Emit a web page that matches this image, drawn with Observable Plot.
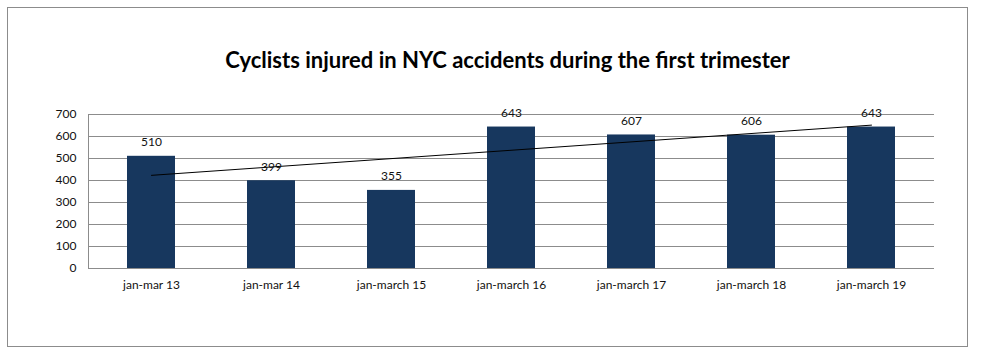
<!DOCTYPE html>
<html>
<head>
<meta charset="utf-8">
<script src="https://cdn.jsdelivr.net/npm/d3@7"></script>
<script src="https://cdn.jsdelivr.net/npm/@observablehq/plot@0.6"></script>
<style>
  html, body { margin: 0; padding: 0; background: #fff; }
  body { width: 985px; height: 357px; position: relative; overflow: hidden; font-family: Lato, "Open Sans", sans-serif; }
  #frame { position: absolute; left: 7px; top: 7px; width: 959px; height: 338px; border: 1px solid #8c8c8c; box-sizing: content-box; }
  #title { position: absolute; left: 0; width: 1015px; top: 46px; text-align: center; font-size: 22px; font-weight: bold; color: #000; }
  #chart { position: absolute; left: 0; top: 90px; }
</style>
</head>
<body>
<div id="frame"></div>
<div id="title">Cyclists injured in NYC accidents during the first trimester</div>
<div id="chart"></div>
<script>
const categories = ["jan-mar 13", "jan-mar 14", "jan-march 15", "jan-march 16", "jan-march 17", "jan-march 18", "jan-march 19"];
const injured = [510, 399, 355, 643, 607, 606, 643];
const yTicks = [0, 100, 200, 300, 400, 500, 600, 700];

const data = categories.map((c, i) => ({category: c, value: injured[i]}));

// linear trendline (least squares over category index)
const n = injured.length;
const mx = (n - 1) / 2;
const my = d3.mean(injured);
const slope = d3.sum(injured, (v, i) => (i - mx) * (v - my)) / d3.sum(injured, (v, i) => (i - mx) ** 2);
const trend = [
  {category: categories[0], value: my - slope * mx},
  {category: categories[n - 1], value: my + slope * (n - 1 - mx)}
];

const chart = Plot.plot({
  width: 985,
  height: 267,
  marginLeft: 88,
  marginRight: 51,
  marginTop: 24,
  marginBottom: 89,
  style: {fontFamily: "Lato, 'Open Sans', sans-serif", fontSize: "12px", color: "#111", background: "transparent"},
  x: {domain: categories, paddingInner: 0.6, paddingOuter: 0.3, label: null},
  y: {domain: [0, 700], ticks: yTicks, label: null},
  marks: [
    Plot.gridY(yTicks, {stroke: "#8c8c8c", strokeOpacity: 1, strokeWidth: 1}),
    Plot.barY(data, {x: "category", y: "value", fill: "#17375E"}),
    Plot.line(trend, {x: "category", y: "value", stroke: "#000", strokeWidth: 1}),
    Plot.text(data, {x: "category", y: "value", text: d => String(d.value), dy: -14, fill: "#111", fontSize: 12}),
    Plot.axisX({tickSize: 0, tickPadding: 12, fontSize: 12}),
    Plot.axisY({ticks: yTicks, tickSize: 0, tickPadding: 12, fontSize: 12})
  ]
});
// left axis line at the left edge of the plot area
const svg = d3.select(chart);
svg.append("line")
  .attr("x1", 88.5).attr("x2", 88.5)
  .attr("y1", 24).attr("y2", 267 - 89)
  .attr("stroke", "#8c8c8c");
document.getElementById("chart").appendChild(chart);
</script>
</body>
</html>
